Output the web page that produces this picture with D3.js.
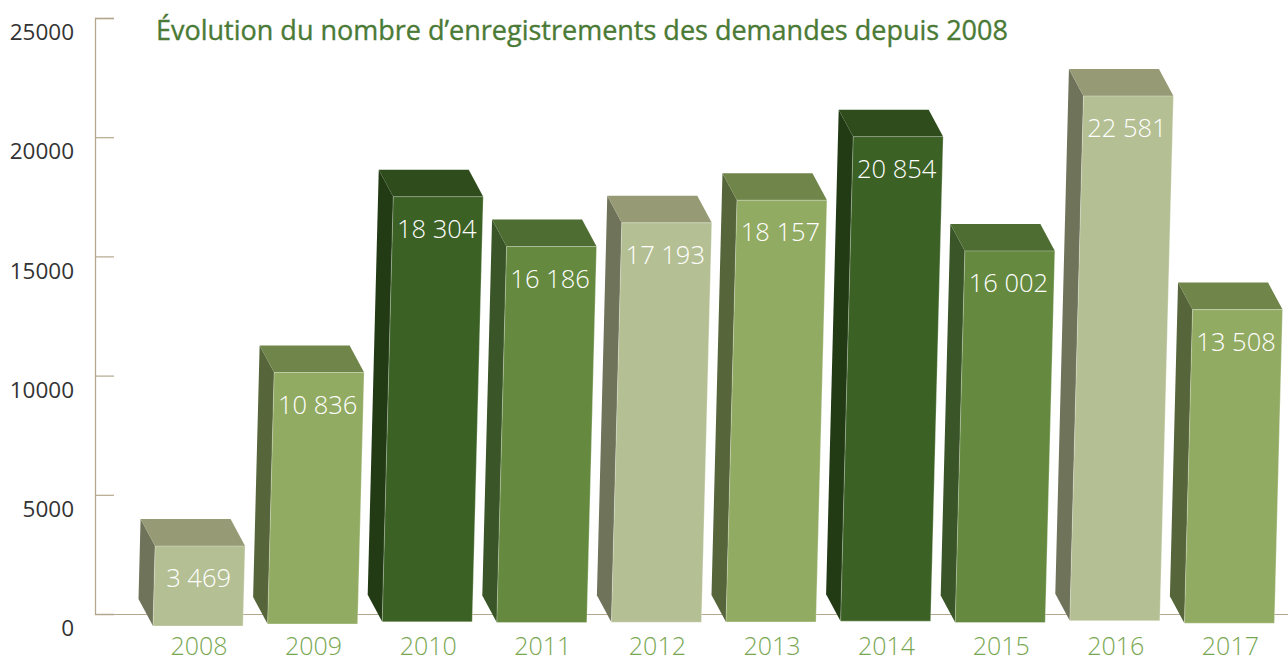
<!DOCTYPE html>
<html lang="fr">
<head>
<meta charset="utf-8">
<title>Évolution du nombre d’enregistrements des demandes depuis 2008</title>
<script src="https://cdn.jsdelivr.net/npm/d3@7/dist/d3.min.js"></script>
<style>
html,body{margin:0;padding:0;background:#fff}
svg{display:block}
text{font-family:"Open Sans","Noto Sans",sans-serif}
</style>
</head>
<body>
<svg id="chart" width="1288" height="662"></svg>
<script>
const titleText = "Évolution du nombre d’enregistrements des demandes depuis 2008";
const years = ["2008","2009","2010","2011","2012","2013","2014","2015","2016","2017"];
const values = [3469,10836,18304,16186,17193,18157,20854,16002,22581,13508];
const yTicks = [0,5000,10000,15000,20000,25000];
const toneNames = ["pale","mid","dark","medium","pale","mid","dark","medium","pale","mid"];
const frontColours = ["#b4bf93","#92ab62","#3b6125","#658a3f"];
const topColours = ["#969b75","#708549","#2f4d1c","#4e6d33"];
const sideColours = ["#6f735a","#56653a","#233b15","#3a5527"];

const svg = d3.select("#chart");
const tones = ["pale","mid","dark","medium"];
const frontC = d3.scaleOrdinal(tones, frontColours);
const topC = d3.scaleOrdinal(tones, topColours);
const sideC = d3.scaleOrdinal(tones, sideColours);

// Axis scale
const y = d3.scaleLinear().domain([0,25000]).range([614,18]);
// Bars are drawn in a slight perspective: their own scales for top and bottom edges
const barTop = d3.scaleLinear().domain([0,25000]).range([627.7,39]);
const barBottom = d3.scaleLinear().domain([0,25000]).range([627,620]);
const x = d3.scaleBand().domain(years).range([153,1299]).paddingInner(0).paddingOuter(0);
const barW = 90, lean = 0.026, depthX = -14.5, depthY = -27;

const fmt = d3.formatLocale({decimal:",",thousands:" ",grouping:[3],currency:["","€"]}).format(",d");

// Axis
const axis = d3.axisLeft(y).tickValues(yTicks).tickFormat(d3.format("d")).tickSize(-19).tickPadding(0);
const gA = svg.append("g").attr("transform","translate(95,0)").call(axis);
gA.select(".domain").attr("stroke","#b5a78e").attr("stroke-width",1.3);
gA.selectAll(".tick line").attr("stroke","#b5a78e").attr("stroke-width",1.2);
gA.selectAll(".tick").filter(d=>d===0).select("line").attr("x2",1193);
gA.selectAll(".tick text")
  .attr("x",-21).attr("dy","0.96em")
  .attr("fill","#333333").attr("font-size",22.5)
  .attr("font-family","'Open Sans','Noto Sans',sans-serif");

// Title
svg.append("text").attr("x",156).attr("y",40)
  .attr("fill","#4a7a35").attr("stroke","#4a7a35").attr("stroke-width",0.35)
  .attr("font-size",27).text(titleText);

const data = years.map((yr,i)=>{
  const v = values[i], t = barTop(v), b = barBottom(v);
  const bl = x(yr), tl = bl + lean*(b-t);
  return {yr,v,t,b,bl,tl,tone:toneNames[i]};
});

const bars = svg.append("g").selectAll("g").data(data).join("g");
const poly = pts => pts.map(p=>p.join(",")).join(" ");

// Side face
bars.append("polygon")
  .attr("points",d=>poly([[d.tl,d.t],[d.tl+depthX,d.t+depthY],[d.bl+depthX,d.b+depthY],[d.bl,d.b]]))
  .attr("fill",d=>sideC(d.tone));
// Top face
bars.append("polygon")
  .attr("points",d=>poly([[d.tl,d.t],[d.tl+depthX,d.t+depthY],[d.tl+depthX+barW,d.t+depthY],[d.tl+barW,d.t]]))
  .attr("fill",d=>topC(d.tone));
// Front face
bars.append("polygon")
  .attr("points",d=>poly([[d.tl,d.t],[d.tl+barW,d.t],[d.bl+barW,d.b],[d.bl,d.b]]))
  .attr("fill",d=>frontC(d.tone))
  .attr("stroke","#ffffff").attr("stroke-opacity",0.3).attr("stroke-width",1);

// Value labels
bars.append("text")
  .attr("x",d=>d.tl+barW/2-1.5).attr("y",d=>d.t+41)
  .attr("text-anchor","middle").attr("fill","#ffffff").attr("font-size",25.5).attr("font-weight",300)
  .text(d=>fmt(d.v));

// Year labels
bars.append("text")
  .attr("x",d=>d.bl+barW/2+1).attr("y",655)
  .attr("text-anchor","middle").attr("fill","#78a752").attr("font-size",25).attr("font-weight",300)
  .text(d=>d.yr);
</script>
</body>
</html>
